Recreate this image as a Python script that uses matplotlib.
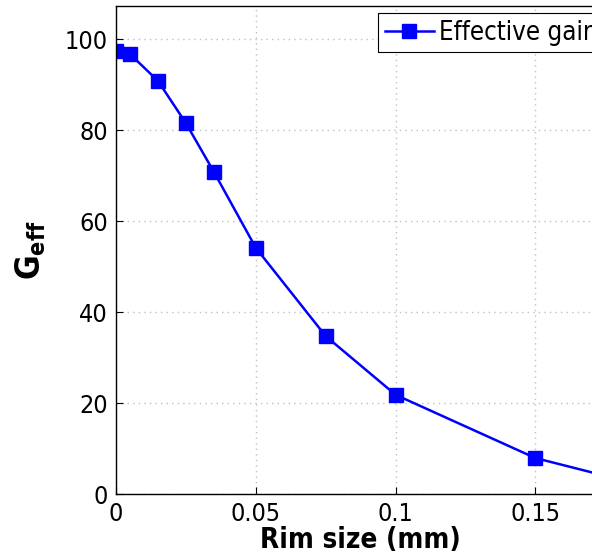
#!/usr/bin/env python3
"""Effektive Verstaerkung G_eff ueber der Randgroesse (Rim size)."""

import matplotlib
matplotlib.use("Agg")
import matplotlib.pyplot as plt

# Werte
rim_size = [0.0, 0.005, 0.015, 0.025, 0.035, 0.05, 0.075, 0.1, 0.15, 0.175]
g_eff = [97.4, 96.7, 90.8, 81.5, 70.8, 54.1, 34.7, 21.8, 7.9, 4.0]

x_ticks = [0, 0.05, 0.1, 0.15]
x_tick_labels = ["0", "0.05", "0.1", "0.15"]
y_ticks = [0, 20, 40, 60, 80, 100]

plt.rcParams["font.family"] = ["DejaVu Sans"]
plt.rcParams["font.stretch"] = "condensed"

fig = plt.figure(figsize=(5.92, 5.56), dpi=100)
# Achse ragt rechts knapp ueber den Bildrand hinaus (wie in der Vorlage abgeschnitten)
ax = fig.add_axes([0.196, 0.1115, 0.8265, 0.878])

ax.plot(rim_size, g_eff, color="#0000ff", lw=1.8, marker="s", ms=10,
        mec="#0000ff", mfc="#0000ff", label="Effective gain")

ax.set_xlim(0, 0.175)
ax.set_ylim(0, 107.3)
ax.set_xticks(x_ticks)
ax.set_xticklabels(x_tick_labels)
ax.set_yticks(y_ticks)
ax.tick_params(direction="in", labelsize=18, length=5, width=0.8, pad=6)
ax.grid(True, color="#c0c0c0", linestyle=(0, (1, 3)), linewidth=1.0)

for sp in ax.spines.values():
    sp.set_linewidth(1.0)

ax.set_xlabel("Rim size (mm)", fontsize=20, fontweight="bold", labelpad=0)
ax.set_ylabel(r"$\mathbf{G_{eff}}$", fontsize=24, labelpad=12)

leg = ax.legend(loc="upper left", bbox_to_anchor=(0.536, 0.985), borderaxespad=0,
                fontsize=18.5, fancybox=False, framealpha=1, edgecolor="black",
                handlelength=1.9, handletextpad=0.2, borderpad=0.25)
leg.get_frame().set_linewidth(0.8)

fig.savefig("out.png", dpi=100)
